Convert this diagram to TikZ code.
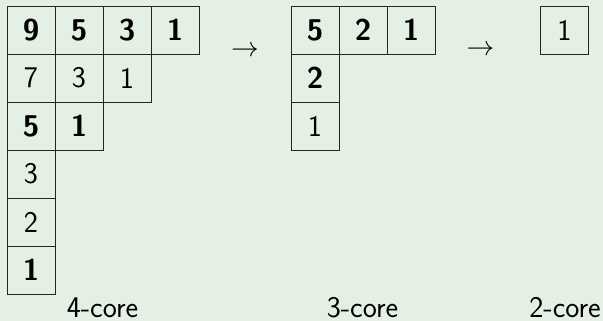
\documentclass[tikz,border=0pt]{standalone}
\usepackage{fontspec}
\definecolor{bg}{RGB}{229,240,228}
\tikzset{
  cell/.style={draw=black!85, line width=0.6pt, minimum width=36pt, minimum height=36pt,
    inner sep=0pt, font=\fontsize{22.5}{27}\selectfont\sffamily},
  hi/.style={cell, font=\fontsize{22.5}{27}\selectfont\sffamily\bfseries},
  lbl/.style={anchor=base, inner sep=0pt, font=\fontsize{22.5}{27}\selectfont\sffamily},
  arr/.style={inner sep=0pt, font=\fontsize{20}{24}\selectfont}
}
\begin{document}
\begin{tikzpicture}[x=0.75pt, y=-0.75pt]
  \fill[bg] (0,0) rectangle (603,321);
  \useasboundingbox (0,0) rectangle (603,321);

  % 4-core tableau
  \node[hi]   (a11) at (31,30)  {9};
  \node[hi]   (a12) at (79,30)  {5};
  \node[hi]   (a13) at (127,30) {3};
  \node[hi]   (a14) at (175,30) {1};
  \node[cell] (a21) at (31,78)  {7};
  \node[cell] (a22) at (79,78)  {3};
  \node[cell] (a23) at (127,78) {1};
  \node[hi]   (a31) at (31,126) {5};
  \node[hi]   (a32) at (79,126) {1};
  \node[cell] (a41) at (31,174) {3};
  \node[cell] (a51) at (31,222) {2};
  \node[hi]   (a61) at (31,270) {1};

  % 3-core tableau
  \node[hi]   (b11) at (315,30)  {5};
  \node[hi]   (b12) at (363,30)  {2};
  \node[hi]   (b13) at (411,30)  {1};
  \node[hi]   (b21) at (315,78)  {2};
  \node[cell] (b31) at (315,126) {1};

  % 2-core tableau
  \node[cell] (c11) at (564.5,30) {1};

  % arrows between the stages
  \node[arr] (r1) at (245,51) {$\rightarrow$};
  \node[arr] (r2) at (480.5,50) {$\rightarrow$};

  % captions
  \node[lbl] (l1) at (102.5,317) {4-core};
  \node[lbl] (l2) at (362.5,317) {3-core};
  \node[lbl] (l3) at (565,317)   {2-core};
\end{tikzpicture}
\end{document}
